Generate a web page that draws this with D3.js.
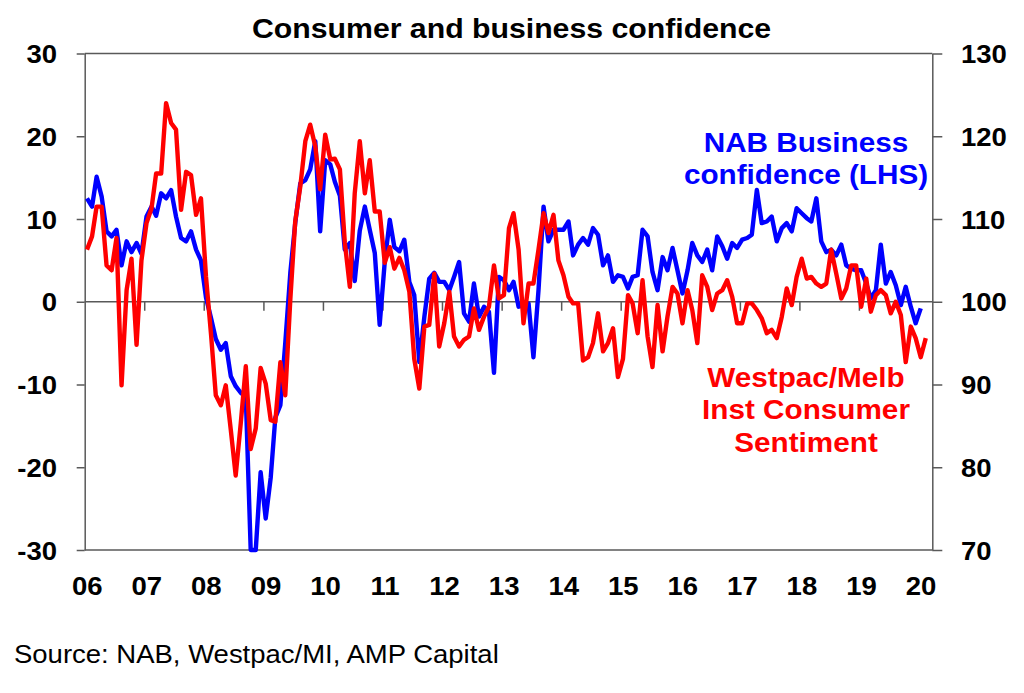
<!DOCTYPE html>
<html>
<head>
<meta charset="utf-8">
<script src="https://cdn.jsdelivr.net/npm/d3@7"></script>
<style>
  body { margin: 0; background: #fff; }
  text { font-family: "Liberation Sans", Arial, sans-serif; }
</style>
</head>
<body>
<svg id="chart" width="1024" height="693"></svg>
<script>
// monthly, Jan 2006 onwards (LHS, net balance)
const nabBusiness = [
	12.5, 11.5, 15.1, 12.7, 8.5, 7.9, 8.7, 4.4, 7.3, 6.0, 7.1, 5.8,
	10.3, 11.5, 10.4, 13.1, 12.5, 13.5, 10.3, 7.7, 7.3, 8.5, 6.3, 5.0,
	0.5, -2.0, -4.5, -5.8, -5.0, -9.0, -10.2, -11.0, -11.5, -30, -30, -20.6,
	-26.2, -21.2, -14.0, -12.5, -5.0, 3.5, 9.5, 14.3, 14.7, 16.0, 19.4, 8.5,
	17.1, 16.6, 14.5, 12.8, 6.3, 7.1, 2.5, 8.6, 11.5, 8.7, 5.9, -2.8,
	4.8, 9.9, 6.6, 6.1, 7.5, 2.4, 0.8, -7.3, -1.8, 2.8, 3.5, 2.4,
	2.4, 1.4, 3.0, 4.8, -1.4, -2.4, 2.2, -1.8, -0.6, -1.2, -8.6, 3.0,
	2.6, 1.4, 2.4, -0.6, -0.4, -0.2, -6.7, 1.4, 11.5, 7.3, 8.7, 8.7,
	8.7, 9.7, 5.6, 6.9, 7.7, 6.9, 8.9, 8.1, 4.4, 5.6, 2.4, 3.2,
	3.0, 1.6, 3.0, 3.2, 8.7, 7.9, 3.6, 1.4, 5.4, 3.8, 6.5, 3.8,
	1.0, 3.8, 7.1, 5.6, 4.8, 6.3, 3.8, 7.9, 6.7, 5.2, 7.1, 6.5,
	7.5, 7.7, 8.1, 13.5, 9.5, 9.7, 10.3, 7.3, 8.9, 9.5, 8.5, 11.3,
	10.7, 10.1, 9.7, 12.5, 7.3, 6.0, 6.3, 5.6, 6.9, 4.4, 4.0, 3.8,
	3.8, 2.2, 0.4, 1.4, 6.9, 2.2, 3.6, 2.0, -0.4, 1.8, -0.6, -2.6,
	-0.8
];

// monthly, Jan 2006 onwards (RHS, index)
const westpacSentiment = [
	106.3, 107.9, 111.5, 111.5, 104.4, 103.8, 107.7, 89.9, 101.4, 105.2, 94.8, 105.0,
	109.5, 111.3, 115.5, 115.5, 124.0, 121.6, 120.8, 111.1, 115.7, 115.3, 110.5, 112.5,
	103.0, 96.0, 88.7, 87.5, 89.9, 84.5, 79.0, 85.3, 92.2, 82.2, 84.7, 92.0,
	90.1, 85.7, 85.5, 92.7, 88.7, 100.3, 109.7, 113.9, 119.4, 121.4, 118.8, 113.6,
	120.2, 117.2, 117.3, 116.0, 107.2, 101.8, 113.1, 119.4, 113.1, 117.1, 110.9, 110.9,
	104.7, 106.6, 104.0, 105.3, 103.8, 101.2, 93.1, 89.5, 97.0, 97.2, 103.4, 94.6,
	97.4, 101.2, 95.8, 94.6, 95.4, 95.8, 99.2, 96.6, 98.2, 99.4, 104.4, 100.4,
	100.8, 108.9, 110.7, 106.3, 97.4, 102.2, 102.2, 106.3, 110.7, 108.3, 110.5, 105.0,
	103.2, 100.6, 99.8, 99.8, 92.9, 93.3, 95.0, 98.6, 94.0, 95.0, 96.8, 90.9,
	93.1, 100.8, 99.8, 96.2, 102.6, 95.8, 92.1, 99.6, 94.0, 98.2, 101.8, 101.0,
	97.4, 101.4, 99.0, 95.0, 103.2, 101.8, 99.0, 101.0, 101.4, 102.6, 100.6, 97.4,
	97.4, 99.8, 99.8, 99.0, 98.0, 96.2, 96.6, 95.6, 98.2, 101.6, 99.6, 103.0,
	105.2, 102.8, 103.0, 102.2, 101.8, 102.2, 106.3, 103.4, 100.4, 101.6, 104.4, 104.4,
	99.4, 102.8, 98.8, 100.8, 101.4, 100.8, 98.6, 100.0, 98.4, 92.7, 97.0, 95.6,
	93.3, 95.6
];

const leftTicks = [-30, -20, -10, 0, 10, 20, 30];
const rightTicks = [70, 80, 90, 100, 110, 120, 130];
const years = d3.range(2006, 2021);
const yearLabel = y => String(y).slice(2);

const nabLabel = ["NAB Business", "confidence (LHS)"];
const westpacLabel = ["Westpac/Melb", "Inst Consumer", "Sentiment"];

const svg = d3.select("#chart");
const plot = { left: 84.7, right: 932.3, top: 53.5, bottom: 550 };
const stretch = 1.1; // the source picture's text is a bit wide
const axisColor = "#595959";

const monthDate = i => new Date(2006, i, 15);
const x = d3.scaleTime()
	.domain([new Date(2006, 0, 1), new Date(2020, 2, 26)])
	.range([plot.left, plot.right]);
const yL = d3.scaleLinear().domain([-30, 30]).range([plot.bottom, plot.top]);
const yR = d3.scaleLinear().domain([70, 130]).range([plot.bottom, plot.top]);

function addText(g, px, py, str, size, opts = {}) {
	return g.append("text")
		.attr("transform", "translate(" + px + "," + py + ") scale(" + stretch + ",1)")
		.attr("text-anchor", opts.anchor || "start")
		.attr("font-size", size)
		.attr("font-weight", opts.weight || "bold")
		.attr("fill", opts.color || "#000")
		.text(str);
}

// frame lines at 30 / 0 / -30
svg.append("g")
	.selectAll("line")
	.data([30, 0, -30])
	.join("line")
	.attr("x1", plot.left)
	.attr("x2", plot.right)
	.attr("y1", d => yL(d))
	.attr("y2", d => yL(d))
	.attr("stroke", axisColor)
	.attr("stroke-width", 1.5);

// left axis
let gl = svg.append("g")
	.attr("transform", "translate(" + plot.left + ",0)")
	.call(d3.axisLeft(yL).tickValues(leftTicks).tickSize(8).tickSizeOuter(0).tickFormat(""));
gl.selectAll("path, line").attr("stroke", axisColor).attr("stroke-width", 1.5);

// right axis
let gr = svg.append("g")
	.attr("transform", "translate(" + plot.right + ",0)")
	.call(d3.axisRight(yR).tickValues(rightTicks).tickSize(10).tickSizeOuter(0).tickFormat(""));
gr.selectAll("path, line").attr("stroke", axisColor).attr("stroke-width", 1.5);

// year ticks on the zero line
let gx = svg.append("g")
	.attr("transform", "translate(0," + yL(0) + ")")
	.call(d3.axisBottom(x).tickValues(years.slice(1, -1).map(y => new Date(y, 0, 1))).tickSize(9).tickFormat(""));
gx.select(".domain").remove();
gx.selectAll("line").attr("stroke", axisColor).attr("stroke-width", 1.5);

// tick labels
let labels = svg.append("g");
leftTicks.forEach(t => addText(labels, 57, yL(t) + 9.5, String(t), 25, { anchor: "end" }));
rightTicks.forEach(t => addText(labels, 961, yR(t) + 9.5, String(t), 25));
years.forEach(y => addText(labels, x(new Date(y, 0, 1)) + 2.5, 595, yearLabel(y), 25, { anchor: "middle" }));

// series
const lineL = d3.line().x((d, i) => x(monthDate(i))).y(d => yL(d));
const lineR = d3.line().x((d, i) => x(monthDate(i))).y(d => yR(d));

svg.append("path")
	.datum(nabBusiness)
	.attr("d", lineL)
	.attr("fill", "none")
	.attr("stroke", "#0000ff")
	.attr("stroke-width", 4.4)
	.attr("stroke-linejoin", "round");

svg.append("path")
	.datum(westpacSentiment)
	.attr("d", lineR)
	.attr("fill", "none")
	.attr("stroke", "#ff0000")
	.attr("stroke-width", 4.4)
	.attr("stroke-linejoin", "round");

// annotations
let notes = svg.append("g");
nabLabel.forEach((s, i) => addText(notes, 806, 151.7 + i * 32.4, s, 27, { anchor: "middle", color: "#0000ff" }));
westpacLabel.forEach((s, i) => addText(notes, 806, 386.7 + i * 32.5, s, 27, { anchor: "middle", color: "#ff0000" }));

// title and source
addText(svg, 511.5, 38.3, "Consumer and business confidence", 27.5, { anchor: "middle" });
addText(svg, 14, 663, "Source: NAB, Westpac/MI, AMP Capital", 25, { weight: "normal" });
</script>
</body>
</html>
